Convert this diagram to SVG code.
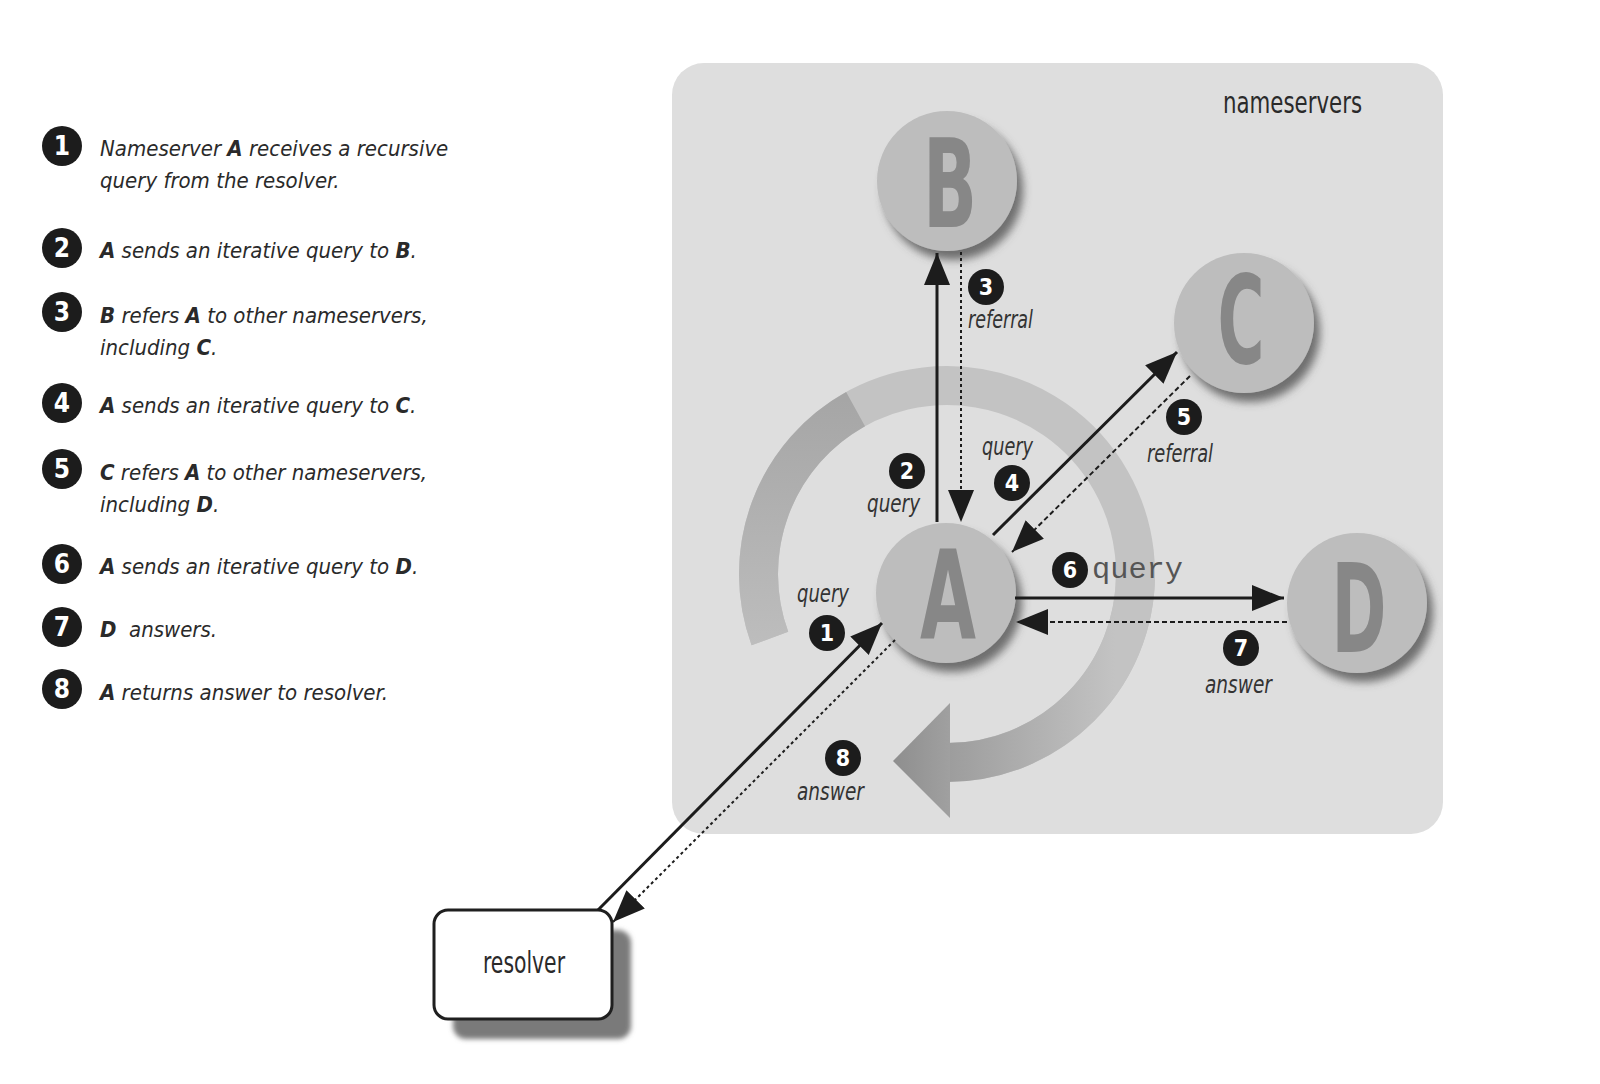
<svg xmlns="http://www.w3.org/2000/svg" width="1600" height="1084" viewBox="0 0 1600 1084">
<style>
  .lg { font-family: "DejaVu Sans Condensed","DejaVu Sans",sans-serif; font-stretch: condensed; font-style: italic; font-size: 22px; fill: #2a2a2a; }
  .b { font-weight: bold; }
  .lb { font-family: "DejaVu Sans Condensed","Liberation Sans Narrow","Liberation Sans",sans-serif; font-style: italic; font-size: 25px; fill: #333; }
  .rg { font-family: "DejaVu Sans Condensed","Liberation Sans Narrow","Liberation Sans",sans-serif; font-size: 30px; fill: #2a2a2a; }
  .mono { font-family: "Liberation Mono","Courier New",monospace; font-size: 30px; fill: #555; }
  .big { font-family: "DejaVu Sans Condensed","Liberation Sans Narrow","Liberation Sans",sans-serif; font-weight: bold; font-size: 123px; fill: #878787; text-anchor: middle; }
  .bd { fill: #1c1c1c; }
  .bn { font-family: "DejaVu Sans Condensed","Liberation Sans Narrow","Liberation Sans",sans-serif; font-weight: bold; fill: #fff; text-anchor: middle; font-size: 23px; }
  .bnl { font-size: 26px; }
  .node { fill: #bdbdbd; filter: url(#sh); }
  .solid { stroke: #1c1c1c; stroke-width: 3; fill: none; marker-end: url(#ah); }
  .dot { stroke: #1c1c1c; stroke-width: 2; fill: none; stroke-dasharray: 3 3; marker-end: url(#ah); }
  .dash { stroke: #1c1c1c; stroke-width: 2; fill: none; stroke-dasharray: 5 3; marker-end: url(#ah); }
</style>
<defs>
  <marker id="ah" markerUnits="userSpaceOnUse" viewBox="0 0 34 28" markerWidth="34" markerHeight="28" refX="32" refY="13" orient="auto">
    <path d="M0,0 L32,13 L0,26 z" fill="#1c1c1c"/>
  </marker>
  <filter id="sh" x="-30%" y="-30%" width="170%" height="170%">
    <feDropShadow dx="6" dy="9" stdDeviation="4" flood-color="#4a4a4a" flood-opacity="0.75"/>
  </filter>
  <filter id="blur" x="-20%" y="-20%" width="140%" height="140%">
    <feGaussianBlur stdDeviation="2.5"/>
  </filter>
  <linearGradient id="gLeft" gradientUnits="userSpaceOnUse" x1="0" y1="645" x2="0" y2="400">
    <stop offset="0" stop-color="#bdbdbd"/>
    <stop offset="1" stop-color="#a6a6a6"/>
  </linearGradient>
  <linearGradient id="gBot" gradientUnits="userSpaceOnUse" x1="950" y1="0" x2="1115" y2="0">
    <stop offset="0" stop-color="#9d9d9d"/>
    <stop offset="1" stop-color="#c3c3c3"/>
  </linearGradient>
  <linearGradient id="gHead" gradientUnits="userSpaceOnUse" x1="893" y1="0" x2="950" y2="0">
    <stop offset="0" stop-color="#8e8e8e"/>
    <stop offset="1" stop-color="#a0a0a0"/>
  </linearGradient>
</defs>

<rect width="1600" height="1084" fill="#ffffff"/>

<!-- Legend -->
<g id="legend">
  <g id="step1">
    <circle class="bd" cx="62" cy="146" r="20"/><text class="bn bnl" x="62" y="155">1</text>
    <text class="lg" x="100" y="156">Nameserver <tspan class="b">A</tspan> receives a recursive</text>
    <text class="lg" x="100" y="188">query from the resolver.</text>
  </g>
  <g id="step2">
    <circle class="bd" cx="62" cy="248" r="20"/><text class="bn bnl" x="62" y="257">2</text>
    <text class="lg" x="100" y="258"><tspan class="b">A</tspan> sends an iterative query to <tspan class="b">B</tspan>.</text>
  </g>
  <g id="step3">
    <circle class="bd" cx="62" cy="312" r="20"/><text class="bn bnl" x="62" y="321">3</text>
    <text class="lg" x="100" y="323"><tspan class="b">B</tspan> refers <tspan class="b">A</tspan> to other nameservers,</text>
    <text class="lg" x="100" y="355">including <tspan class="b">C</tspan>.</text>
  </g>
  <g id="step4">
    <circle class="bd" cx="62" cy="403" r="20"/><text class="bn bnl" x="62" y="412">4</text>
    <text class="lg" x="100" y="413"><tspan class="b">A</tspan> sends an iterative query to <tspan class="b">C</tspan>.</text>
  </g>
  <g id="step5">
    <circle class="bd" cx="62" cy="469" r="20"/><text class="bn bnl" x="62" y="478">5</text>
    <text class="lg" x="100" y="480"><tspan class="b">C</tspan> refers <tspan class="b">A</tspan> to other nameservers,</text>
    <text class="lg" x="100" y="512">including <tspan class="b">D</tspan>.</text>
  </g>
  <g id="step6">
    <circle class="bd" cx="62" cy="564" r="20"/><text class="bn bnl" x="62" y="573">6</text>
    <text class="lg" x="100" y="574"><tspan class="b">A</tspan> sends an iterative query to <tspan class="b">D</tspan>.</text>
  </g>
  <g id="step7">
    <circle class="bd" cx="62" cy="627" r="20"/><text class="bn bnl" x="62" y="636">7</text>
    <text class="lg" x="100" y="637"><tspan class="b">D</tspan>&#160; answers.</text>
  </g>
  <g id="step8">
    <circle class="bd" cx="62" cy="689" r="20"/><text class="bn bnl" x="62" y="698">8</text>
    <text class="lg" x="100" y="700"><tspan class="b">A</tspan> returns answer to resolver.</text>
  </g>
</g>

<!-- Nameservers panel -->
<g id="nameservers">
  <rect x="672" y="63" width="771" height="771" rx="32" fill="#dedede"/>
  <text class="rg" x="1223" y="113" textLength="139" lengthAdjust="spacingAndGlyphs">nameservers</text>
</g>

<!-- Recursion ring -->
<g id="ring">
  <path d="M769.9,638.5 A188.5,188.5 0 1 1 947,762.5" fill="none" stroke="#c3c3c3" stroke-width="39"/>
  <path d="M769.9,638.5 A188.5,188.5 0 0 1 855.6,409.1" fill="none" stroke="url(#gLeft)" stroke-width="39"/>
  <path d="M1135.5,574 A188.5,188.5 0 0 1 947,762.5" fill="none" stroke="url(#gBot)" stroke-width="39"/>
  <polygon points="950,703 893,761 950,818" fill="url(#gHead)"/>
</g>

<!-- Nodes -->
<g id="nodeB">
  <circle class="node" cx="947" cy="181" r="70"/>
  <text class="big" x="950" y="227" textLength="54" lengthAdjust="spacingAndGlyphs">B</text>
</g>
<g id="nodeC">
  <circle class="node" cx="1244" cy="323" r="70"/>
  <text class="big" x="1241" y="363" textLength="47" lengthAdjust="spacingAndGlyphs">C</text>
</g>
<g id="nodeD">
  <circle class="node" cx="1357" cy="603" r="70"/>
  <text class="big" x="1359" y="652" textLength="55" lengthAdjust="spacingAndGlyphs">D</text>
</g>
<g id="nodeA">
  <circle class="node" cx="946" cy="593" r="70"/>
  <text class="big" x="948" y="638" textLength="56" lengthAdjust="spacingAndGlyphs">A</text>
</g>
<g id="resolver">
  <rect x="453" y="930" width="178" height="109" rx="13" fill="#7a7a7a" filter="url(#blur)"/>
  <rect x="434" y="910" width="178" height="109" rx="14" fill="#ffffff" stroke="#1f1f1f" stroke-width="3"/>
  <text class="rg" x="524" y="973" text-anchor="middle" textLength="82" lengthAdjust="spacingAndGlyphs">resolver</text>
</g>

<!-- Connectors -->
<g id="connectors">
  <line class="solid" x1="598" y1="910" x2="882" y2="623"/>
  <line class="dot" x1="895" y1="640" x2="613" y2="922"/>
  <line class="solid" x1="937" y1="522" x2="937" y2="253"/>
  <line class="dot" x1="961" y1="252" x2="961" y2="522"/>
  <line class="solid" x1="993" y1="535" x2="1177" y2="352"/>
  <line class="dash" x1="1190" y1="376" x2="1012" y2="552"/>
  <line class="solid" x1="1015" y1="598" x2="1284" y2="598"/>
  <line class="dash" x1="1287" y1="622" x2="1016" y2="622"/>
</g>

<!-- Connector labels -->
<g id="labels">
  <circle class="bd" cx="827" cy="633" r="18"/><text class="bn" x="827" y="641">1</text>
  <text class="lb" x="797" y="602" textLength="52" lengthAdjust="spacingAndGlyphs">query</text>

  <circle class="bd" cx="907" cy="471" r="18"/><text class="bn" x="907" y="479">2</text>
  <text class="lb" x="867" y="512" textLength="53" lengthAdjust="spacingAndGlyphs">query</text>

  <circle class="bd" cx="986" cy="287" r="18"/><text class="bn" x="986" y="295">3</text>
  <text class="lb" x="968" y="328" textLength="65" lengthAdjust="spacingAndGlyphs">referral</text>

  <circle class="bd" cx="1012" cy="483" r="18"/><text class="bn" x="1012" y="491">4</text>
  <text class="lb" x="982" y="455" textLength="51" lengthAdjust="spacingAndGlyphs">query</text>

  <circle class="bd" cx="1184" cy="417" r="18"/><text class="bn" x="1184" y="425">5</text>
  <text class="lb" x="1147" y="462" textLength="66" lengthAdjust="spacingAndGlyphs">referral</text>

  <circle class="bd" cx="1070" cy="570" r="18"/><text class="bn" x="1070" y="578">6</text>
  <text class="mono" x="1092" y="578" textLength="91" lengthAdjust="spacingAndGlyphs">query</text>

  <circle class="bd" cx="1241" cy="648" r="18"/><text class="bn" x="1241" y="656">7</text>
  <text class="lb" x="1205" y="693" textLength="67" lengthAdjust="spacingAndGlyphs">answer</text>

  <circle class="bd" cx="843" cy="758" r="18"/><text class="bn" x="843" y="766">8</text>
  <text class="lb" x="797" y="800" textLength="67" lengthAdjust="spacingAndGlyphs">answer</text>
</g>
</svg>
